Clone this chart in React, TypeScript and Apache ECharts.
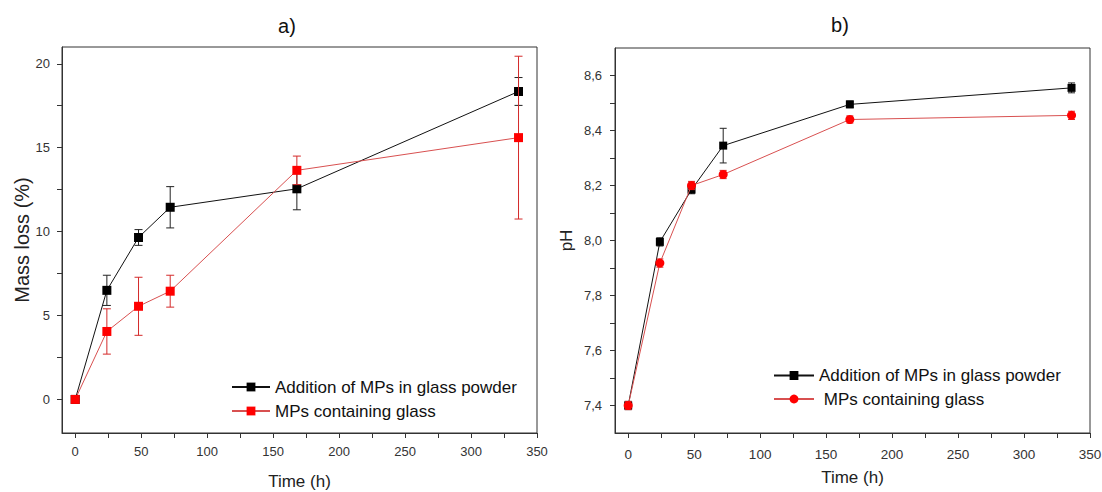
import React, { useEffect, useRef } from 'react';
import * as echarts from 'echarts';

const timeH = [0, 24, 48, 72, 168, 336];
const massAdditionMean = [0, 6.5, 9.65, 11.45, 12.55, 18.35];
const massAdditionErr = [0, 0.9, 0.47, 1.23, 1.25, 0.83];
const massContainingMean = [0, 4.05, 5.55, 6.45, 13.65, 15.6];
const massContainingErr = [0, 1.35, 1.73, 0.95, 0.85, 4.85];
const phAdditionMean = [7.4, 7.995, 8.185, 8.345, 8.495, 8.555];
const phAdditionErr = [0.015, 0.015, 0.015, 0.063, 0.012, 0.018];
const phContainingMean = [7.4, 7.918, 8.2, 8.24, 8.44, 8.455];
const phContainingErr = [0.015, 0.015, 0.015, 0.015, 0.013, 0.015];

const timeTicks = [0, 50, 100, 150, 200, 250, 300, 350];
const timeMinorTicks = [25, 75, 125, 175, 225, 275, 325];
const massTicks = [0, 5, 10, 15, 20];
const massMinorTicks = [2.5, 7.5, 12.5, 17.5];
const phTicks = [7.4, 7.6, 7.8, 8.0, 8.2, 8.4, 8.6];
const phMinorTicks = [7.5, 7.7, 7.9, 8.1, 8.3, 8.5];

const legendA = ['Addition of MPs in glass powder', 'MPs containing glass'];
const legendB = ['Addition of MPs in glass powder', ' MPs containing glass'];
const titles = ['a)', 'b)'];

const FONT = '"Liberation Sans", Arial, sans-serif';
const AX = '#333';

function pts(means: number[]) {
  return timeH.map((t, i) => [t, means[i]]);
}
function errs(means: number[], e: number[]) {
  return timeH.map((t, i) => [t, means[i] - e[i], means[i] + e[i]]);
}
function allTicks(a: number[], b: number[]) {
  return [...a, ...b].sort((x, y) => x - y);
}

function errorSeries(name: string, data: number[][], color: string, cap: number, gi: number, z: number) {
  return {
    name,
    type: 'custom',
    xAxisIndex: gi,
    yAxisIndex: gi,
    z,
    encode: { x: 0, y: [1, 2] },
    data,
    renderItem: (params: any, api: any) => {
      const x = api.value(0);
      const lo = api.coord([x, api.value(1)]);
      const hi = api.coord([x, api.value(2)]);
      const w = cap / 2;
      const st = { stroke: color, lineWidth: 1 };
      return {
        type: 'group',
        children: [
          { type: 'line', shape: { x1: hi[0], y1: hi[1], x2: lo[0], y2: lo[1] }, style: st },
          { type: 'line', shape: { x1: hi[0] - w, y1: hi[1], x2: hi[0] + w, y2: hi[1] }, style: st },
          { type: 'line', shape: { x1: lo[0] - w, y1: lo[1], x2: lo[0] + w, y2: lo[1] }, style: st },
        ],
      };
    },
  };
}

function mainX(gi: number, margin: number, nameGap: number, fontSize: number) {
  return {
    type: 'value', gridIndex: gi, min: -10, max: 350, position: 'bottom',
    name: 'Time (h)', nameLocation: 'middle', nameGap,
    nameTextStyle: { fontFamily: FONT, fontSize: 17, color: '#222' },
    axisLine: { show: true, onZero: false, lineStyle: { color: AX, width: 1 } },
    axisTick: { show: true, customValues: allTicks(timeTicks, timeMinorTicks), length: 5, lineStyle: { color: AX } },
    axisLabel: { customValues: timeTicks, margin, fontFamily: FONT, fontSize, color: '#333' },
    splitLine: { show: false },
  };
}

export default function App() {
  const ref = useRef<HTMLDivElement>(null);
  useEffect(() => {
    if (!ref.current) return;
    const chart = echarts.init(ref.current, null, { renderer: 'svg' });
    const labelsA = ['a_black', 'a_red'];
    const labelsB = ['b_black', 'b_red'];
    const legendText = { fontFamily: FONT, fontSize: 17, color: '#111', lineHeight: 18 };
    const option: any = {
      animation: false,
      backgroundColor: '#fff',
      graphic: [
        { type: 'text', x: 287, y: 26, style: { text: titles[0], font: `20px ${FONT}`, fill: '#111', textAlign: 'center', textVerticalAlign: 'middle' } },
        { type: 'text', x: 840, y: 25, style: { text: titles[1], font: `20px ${FONT}`, fill: '#111', textAlign: 'center', textVerticalAlign: 'middle' } },
      ],
      grid: [
        { left: 62, top: 47, width: 475, height: 386, show: true, borderColor: AX, borderWidth: 1, containLabel: false, outerBoundsMode: 'none' },
        { left: 615, top: 48, width: 475, height: 385, show: true, borderColor: AX, borderWidth: 1, containLabel: false, outerBoundsMode: 'none' },
      ],
      legend: [
        {
          data: labelsA, left: 231, top: 378, padding: 0, orient: 'vertical', itemWidth: 38, itemHeight: 11, itemGap: 6,
          selectedMode: false,
          formatter: (n: string) => legendA[labelsA.indexOf(n)],
          textStyle: legendText,
        },
        {
          data: labelsB, left: 773, top: 366.5, padding: 0, orient: 'vertical', itemWidth: 40, itemHeight: 11, itemGap: 5.5,
          selectedMode: false,
          formatter: (n: string) => legendB[labelsB.indexOf(n)],
          textStyle: legendText,
        },
      ],
      xAxis: [mainX(0, 12, 39.5, 13), mainX(1, 14, 35.5, 13.5)],
      yAxis: [
        {
          type: 'value', gridIndex: 0, min: -2, max: 21, position: 'left',
          name: 'Mass loss (%)', nameLocation: 'middle', nameGap: 28,
          nameTextStyle: { fontFamily: FONT, fontSize: 20, color: '#222' },
          axisLine: { show: true, onZero: false, lineStyle: { color: AX, width: 1 } },
          axisTick: { show: true, customValues: allTicks(massTicks, massMinorTicks), length: 5, lineStyle: { color: AX } },
          axisLabel: { customValues: massTicks, margin: 12, fontFamily: FONT, fontSize: 13, color: '#333' },
          splitLine: { show: false },
        },
        {
          type: 'value', gridIndex: 1, min: 7.3, max: 8.7, position: 'left',
          name: 'pH', nameLocation: 'middle', nameGap: 40,
          nameTextStyle: { fontFamily: FONT, fontSize: 17, color: '#222' },
          axisLine: { show: true, onZero: false, lineStyle: { color: AX, width: 1 } },
          axisTick: { show: true, customValues: allTicks(phTicks, phMinorTicks), length: 5, lineStyle: { color: AX } },
          axisLabel: {
            customValues: phTicks, margin: 13, fontFamily: FONT, fontSize: 13, color: '#333',
            formatter: (v: number) => v.toFixed(1).replace('.', ','),
          },
          splitLine: { show: false },
        },
      ],
      series: [
        errorSeries('a_black_err', errs(massAdditionMean, massAdditionErr), '#222', 8, 0, 2),
        {
          name: 'a_black', type: 'line', xAxisIndex: 0, yAxisIndex: 0, z: 3,
          data: pts(massAdditionMean), symbol: 'rect', symbolSize: 9,
          itemStyle: { color: '#000' }, lineStyle: { color: '#111', width: 1 },
        },
        errorSeries('a_red_err', errs(massContainingMean, massContainingErr), '#d42a2a', 8, 0, 4),
        {
          name: 'a_red', type: 'line', xAxisIndex: 0, yAxisIndex: 0, z: 5,
          data: pts(massContainingMean), symbol: 'rect', symbolSize: 9,
          itemStyle: { color: '#ff0000' }, lineStyle: { color: '#d85050', width: 1 },
        },
        errorSeries('b_black_err', errs(phAdditionMean, phAdditionErr), '#222', 7, 1, 2),
        {
          name: 'b_black', type: 'line', xAxisIndex: 1, yAxisIndex: 1, z: 3,
          data: pts(phAdditionMean), symbol: 'rect', symbolSize: 8,
          itemStyle: { color: '#000' }, lineStyle: { color: '#111', width: 1 },
        },
        errorSeries('b_red_err', errs(phContainingMean, phContainingErr), '#d42a2a', 7, 1, 4),
        {
          name: 'b_red', type: 'line', xAxisIndex: 1, yAxisIndex: 1, z: 5,
          data: pts(phContainingMean), symbol: 'circle', symbolSize: 9,
          itemStyle: { color: '#ff0000' }, lineStyle: { color: '#d85050', width: 1 },
        },
      ],
    };
    chart.setOption(option);
    return () => chart.dispose();
  }, []);
  return (
    <div
      ref={ref}
      style={{ position: 'fixed', left: 0, top: 0, width: 1102, height: 492, background: '#fff' }}
    />
  );
}
